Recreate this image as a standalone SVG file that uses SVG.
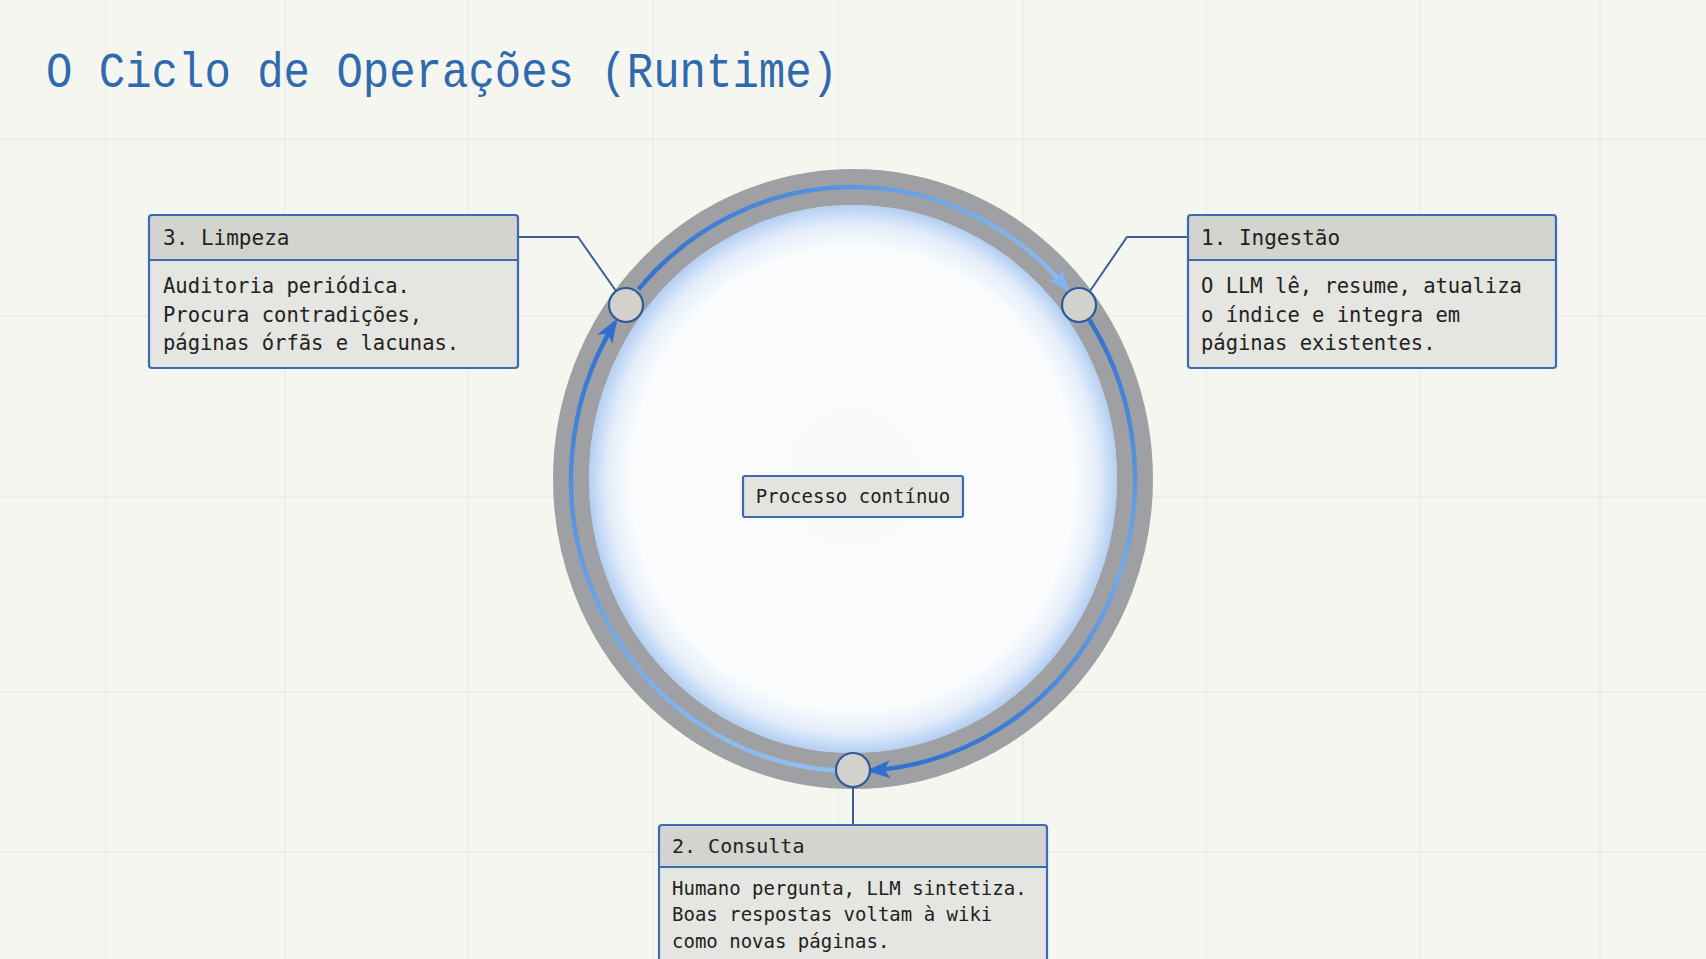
<svg xmlns="http://www.w3.org/2000/svg" width="1706" height="959" viewBox="0 0 1706 959">
<style>
.grid{stroke:#ebebe6;stroke-width:1.3}
.mono{font-family:"DejaVu Sans Mono","Liberation Mono",monospace;fill:#222}
.hdr{fill:#d3d3d0}
.body{fill:#e5e5e1}
.frame{fill:none;stroke:#3b6bb0;stroke-width:2.2}
.sep{stroke:#3b6bb0;stroke-width:2}
.conn{fill:none;stroke:#3a5f99;stroke-width:2}
.node{fill:#d3d1cc;stroke:#2e5a9a;stroke-width:2.2}
.flow{fill:none;stroke-width:4.5}
</style>
<defs>
<radialGradient id="glow" cx="0.5" cy="0.5" r="0.5">
<stop offset="0" stop-color="#fafaf8"/>
<stop offset="0.84" stop-color="#fbfcfd"/>
<stop offset="0.93" stop-color="#e3edfa"/>
<stop offset="1" stop-color="#b3cff3"/>
</radialGradient>
<linearGradient id="g1" gradientUnits="userSpaceOnUse" x1="620" y1="0" x2="1080" y2="0">
<stop offset="0" stop-color="#2f6fce"/>
<stop offset="0.5" stop-color="#5b97e0"/>
<stop offset="1" stop-color="#8fc0f0"/>
</linearGradient>
<linearGradient id="g2" gradientUnits="userSpaceOnUse" x1="0" y1="320" x2="0" y2="775">
<stop offset="0" stop-color="#3371cf"/>
<stop offset="0.55" stop-color="#72aae8"/>
<stop offset="1" stop-color="#2f6fd0"/>
</linearGradient>
<linearGradient id="g3" gradientUnits="userSpaceOnUse" x1="0" y1="775" x2="0" y2="320">
<stop offset="0" stop-color="#8fc0f0"/>
<stop offset="0.5" stop-color="#5e9ae2"/>
<stop offset="1" stop-color="#2f6fce"/>
</linearGradient>
<marker id="m1" viewBox="0 0 24 18" refX="20" refY="9" markerWidth="24" markerHeight="18" markerUnits="userSpaceOnUse" orient="auto">
<path d="M0,0 L24,9 L0,18 L6,9 Z" fill="#7fb4ec"/>
</marker>
<marker id="m2" viewBox="0 0 24 18" refX="20" refY="9" markerWidth="24" markerHeight="18" markerUnits="userSpaceOnUse" orient="auto">
<path d="M0,0 L24,9 L0,18 L6,9 Z" fill="#2f6fd0"/>
</marker>
</defs>
<rect width="1706" height="959" fill="#f6f6f1"/>
<g id="grid">
<line class="grid" x1="106" y1="0" x2="106" y2="959"/>
<line class="grid" x1="285" y1="0" x2="285" y2="959"/>
<line class="grid" x1="468" y1="0" x2="468" y2="959"/>
<line class="grid" x1="653" y1="0" x2="653" y2="959"/>
<line class="grid" x1="838" y1="0" x2="838" y2="959"/>
<line class="grid" x1="1023" y1="0" x2="1023" y2="959"/>
<line class="grid" x1="1206" y1="0" x2="1206" y2="959"/>
<line class="grid" x1="1420" y1="0" x2="1420" y2="959"/>
<line class="grid" x1="1600" y1="0" x2="1600" y2="959"/>
<line class="grid" x1="0" y1="139" x2="1706" y2="139"/>
<line class="grid" x1="0" y1="316" x2="1706" y2="316"/>
<line class="grid" x1="0" y1="497" x2="1706" y2="497"/>
<line class="grid" x1="0" y1="692" x2="1706" y2="692"/>
<line class="grid" x1="0" y1="852" x2="1706" y2="852"/>
</g>
<text id="title" x="46" y="87" font-family="Liberation Mono, DejaVu Sans Mono, monospace" font-size="50" fill="#2f6aae" textLength="792" lengthAdjust="spacingAndGlyphs">O Ciclo de Operações (Runtime)</text>
<g id="ring">
<ellipse cx="853" cy="479" rx="264" ry="274" fill="url(#glow)"/>
<ellipse cx="853" cy="479" rx="282" ry="292" fill="none" stroke="#9fa0a3" stroke-width="36"/>
</g>
<g id="connectors">
<path class="flow" stroke="url(#g1)" marker-end="url(#m1)" d="M638.6,289.4 A282,292 0 0 1 1067.4,289.4"/>
<path class="flow" stroke="url(#g2)" marker-end="url(#m2)" d="M1089.5,320 A282,292 0 0 1 870.2,770.5"/>
<path class="flow" stroke="url(#g3)" marker-end="url(#m2)" d="M835.8,770.5 A282,292 0 0 1 615.2,322.1"/>
<polyline class="conn" points="518,237 578,237 616,291"/>
<polyline class="conn" points="1188,237 1127,237 1090,291"/>
<line class="conn" x1="853" y1="788" x2="853" y2="825"/>
</g>
<g id="node-limpeza-point"><circle class="node" cx="626" cy="305" r="17"/></g>
<g id="node-ingestao-point"><circle class="node" cx="1079" cy="305" r="17"/></g>
<g id="node-consulta-point"><circle class="node" cx="853" cy="770" r="17"/></g>
<g id="center-label">
<rect x="743" y="476" width="220" height="41" rx="2" fill="#e3e3df" stroke="#3b6bb0" stroke-width="2.2"/>
<text class="mono" x="853" y="503" font-size="19" text-anchor="middle">Processo contínuo</text>
</g>
<g id="limpeza">
<rect class="body" x="149" y="215" width="369" height="153" rx="3"/>
<rect class="hdr" x="149" y="215" width="369" height="45" rx="3"/>
<line class="sep" x1="149" y1="260" x2="518" y2="260"/>
<rect class="frame" x="149" y="215" width="369" height="153" rx="3"/>
<text class="mono" x="163" y="245" font-size="21">3. Limpeza</text>
<text class="mono" x="163" y="293" font-size="20.5">Auditoria periódica.</text>
<text class="mono" x="163" y="322" font-size="20.5">Procura contradições,</text>
<text class="mono" x="163" y="350" font-size="20.5">páginas órfãs e lacunas.</text>
</g>
<g id="ingestao">
<rect class="body" x="1188" y="215" width="368" height="153" rx="3"/>
<rect class="hdr" x="1188" y="215" width="368" height="45" rx="3"/>
<line class="sep" x1="1188" y1="260" x2="1556" y2="260"/>
<rect class="frame" x="1188" y="215" width="368" height="153" rx="3"/>
<text class="mono" x="1201" y="245" font-size="21">1. Ingestão</text>
<text class="mono" x="1201" y="293" font-size="20.5">O LLM lê, resume, atualiza</text>
<text class="mono" x="1201" y="322" font-size="20.5">o índice e integra em</text>
<text class="mono" x="1201" y="350" font-size="20.5">páginas existentes.</text>
</g>
<g id="consulta">
<rect class="body" x="659" y="825" width="388" height="150" rx="3"/>
<rect class="hdr" x="659" y="825" width="388" height="42" rx="3"/>
<line class="sep" x1="659" y1="867" x2="1047" y2="867"/>
<rect class="frame" x="659" y="825" width="388" height="150" rx="3"/>
<text class="mono" x="672" y="853" font-size="20">2. Consulta</text>
<text class="mono" x="672" y="895" font-size="19">Humano pergunta, LLM sintetiza.</text>
<text class="mono" x="672" y="921" font-size="19">Boas respostas voltam à wiki</text>
<text class="mono" x="672" y="948" font-size="19">como novas páginas.</text>
</g>
</svg>
